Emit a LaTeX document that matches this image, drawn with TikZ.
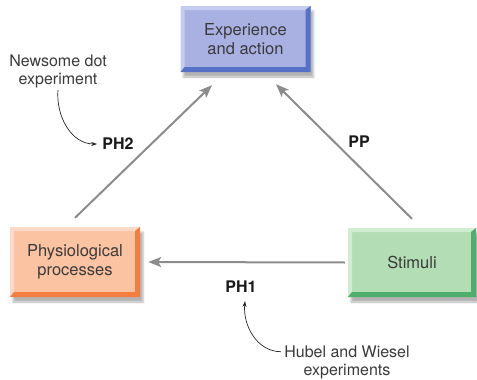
\documentclass[tikz,border=0pt]{standalone}
\usepackage{fontspec}
\setmainfont{TeX Gyre Heros}
\usetikzlibrary{positioning, arrows.meta, shadows.blur}
\definecolor{expface}{HTML}{A9B1E3}
\definecolor{explight}{HTML}{C6CCF1}
\definecolor{expdark}{HTML}{5572C6}
\definecolor{phyface}{HTML}{FCC3A2}
\definecolor{phylight}{HTML}{FDDAC6}
\definecolor{phydark}{HTML}{F47D40}
\definecolor{stiface}{HTML}{B3DEB5}
\definecolor{stilight}{HTML}{D0ECD1}
\definecolor{stidark}{HTML}{4FAE6B}
\definecolor{linkgray}{HTML}{8C8C8C}
\definecolor{txtgray}{HTML}{3A3A3A}
\tikzset{
    box/.style n args={3}{rectangle, fill=#1, text=txtgray, align=center,
      font=\fontsize{16.5}{18.5}\selectfont,
      blur shadow={shadow xshift=3pt, shadow yshift=-5pt, shadow opacity=30},
      path picture={
        \coordinate (nw) at (path picture bounding box.north west);
        \coordinate (ne) at (path picture bounding box.north east);
        \coordinate (sw) at (path picture bounding box.south west);
        \coordinate (se) at (path picture bounding box.south east);
        \fill[#2] (sw) -- (nw) -- (ne) -- ([xshift=-5pt,yshift=-4pt]ne)
          -- ([xshift=4pt,yshift=-4pt]nw) -- ([xshift=4pt,yshift=5pt]sw) -- cycle;
        \fill[#3] (sw) -- (se) -- (ne) -- ([xshift=-5pt,yshift=-4pt]ne)
          -- ([xshift=-5pt,yshift=5pt]se) -- ([xshift=4pt,yshift=5pt]sw) -- cycle;
      }},
    link/.style={draw=linkgray, line width=2pt,
      -{Stealth[length=13pt, width=10pt, inset=3pt]}},
    tag/.style={font=\fontsize{16}{18}\selectfont\bfseries, text=black!90, inner sep=2pt},
    note/.style={font=\fontsize{16}{18}\selectfont, text=txtgray, align=center, inner sep=2pt},
    pointer/.style={draw=black!85, line width=0.7pt, -{Stealth[length=6pt, width=4pt]}},
}

\begin{document}
\begin{tikzpicture}[x=1pt, y=-1pt]
    \useasboundingbox (0,0) rectangle (477,380);

    \node[box={expface}{explight}{expdark}, minimum width=130pt, minimum height=66pt] (exper) at (245.5,39) {Experience\\and action};
    \node[box={phyface}{phylight}{phydark}, minimum width=130pt, minimum height=70pt] (physio) at (75,262) {Physiological\\processes};
    \node[box={stiface}{stilight}{stidark}, minimum width=128pt, minimum height=69pt] (stim) at (412,262.5) {Stimuli};

    % the three links
    \draw[link] ([yshift=9pt]physio.north) -- ([xshift=-33.5pt,yshift=-13pt]exper.south);
    \draw[link] ([yshift=9pt]stim.north) -- ([xshift=30.5pt,yshift=-12pt]exper.south);
    \draw[link] ([xshift=-3pt]stim.west) -- ([xshift=8pt]physio.east);

    \node[tag] (ph2) at (118,144) {PH2};
    \node[tag] (pp) at (359,142) {PP};
    \node[tag] (ph1) at (241,287) {PH1};

    \node[note] (newsome) at (58,71) {Newsome dot\\experiment};
    \node[note] (hubel) at (347,362.5) {Hubel and Wiesel\\experiments};

    \draw[pointer] (newsome.south) to[out=-95, in=180] ([xshift=-3pt]ph2.west);
    \draw[pointer] ([xshift=-1pt,yshift=-8pt]hubel.north west) to[out=180, in=-95] ([xshift=4pt,yshift=-6pt]ph1.south);
\end{tikzpicture}
\end{document}
